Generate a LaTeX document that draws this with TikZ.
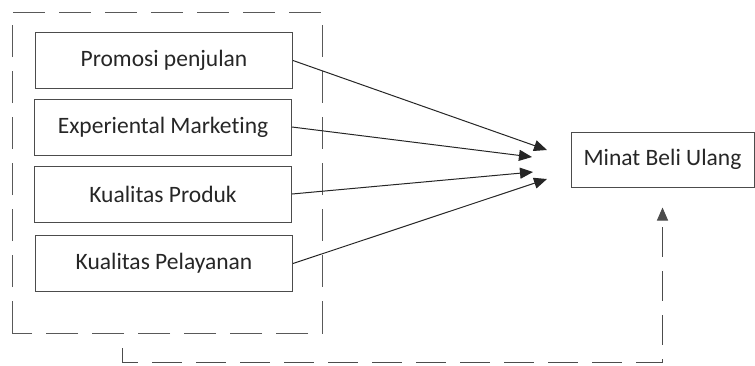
\documentclass[tikz,border=0pt]{standalone}
\usepackage{fontspec}
\setmainfont{Carlito}[Ligatures=NoCommon]
\usetikzlibrary{arrows.meta}

\begin{document}
\begin{tikzpicture}[
    x=1pt, y=-1pt,
    % Estilos de nodos
    var box/.style={draw=black!70, line width=1pt, minimum width=257pt, minimum height=56pt, inner sep=0pt, text=black!85, font=\fontsize{23.5}{28}\selectfont},
    dv box/.style={draw=black!70, line width=1pt, minimum width=183pt, minimum height=55pt, inner sep=0pt, text=black!85, font=\fontsize{23.5}{28}\selectfont},
    % Estilos de aristas
    effect edge/.style={-{Triangle[length=13pt, width=11pt]}, line width=1pt, black!85},
    group frame/.style={dash pattern=on 32pt off 14pt, line width=1pt, black!65},
    feedback line/.style={dash pattern=on 30pt off 14pt, line width=1pt, black!70, -{Triangle[length=13pt, width=11pt]}}
]
    \useasboundingbox (0,0) rectangle (755,365);

    % =========================================================================
    % 1. Variabel bebas dan variabel terikat
    % =========================================================================
    \node[var box] (promosi) at (164, 60.5) {Promosi penjulan};
    \node[var box] (experiental) at (163, 127) {Experiental Marketing};
    \node[var box] (produk) at (163, 194) {Kualitas Produk};
    \node[var box] (pelayanan) at (164, 263.5) {Kualitas Pelayanan};

    \node[dv box] (minat) at (662.5, 159.5) {Minat Beli Ulang};

    % Bingkai kelompok (garis putus-putus)
    \draw[group frame] (12, 333) -- (12, 12) -- (322, 12) -- (322, 333) -- cycle;

    % =========================================================================
    % 2. Ujung panah
    % =========================================================================
    \coordinate (t1) at (547, 150);
    \coordinate (t2) at (532, 157);
    \coordinate (t3) at (533, 172);
    \coordinate (t4) at (547, 179);

    \draw[effect edge] (promosi.east) -- (t1);
    \draw[effect edge] (experiental.east) -- (t2);
    \draw[effect edge] (produk.east) -- (t3);
    \draw[effect edge] (pelayanan.east) -- (t4);

    % =========================================================================
    % 3. Pengaruh simultan
    % =========================================================================
    \coordinate (fb) at (122, 348);
    \coordinate (fc) at (122, 362);
    \draw[feedback line] (fb) -- (fc) -| ([yshift=-20pt]minat.south);
\end{tikzpicture}
\end{document}
